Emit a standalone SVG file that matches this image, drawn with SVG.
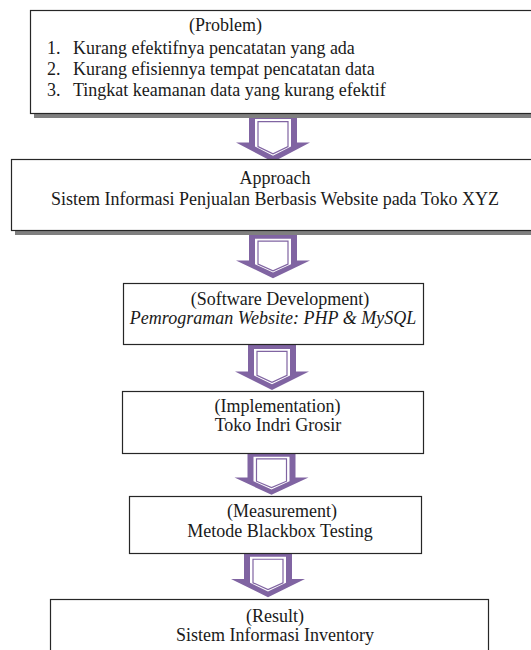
<svg xmlns="http://www.w3.org/2000/svg" width="531" height="650" viewBox="0 0 531 650">
<style>
.box{fill:#fff;stroke:#262626;stroke-width:1.2}
.shadow{fill:#7f7f7f}
text{font-family:"Liberation Serif","Times New Roman",serif;font-size:18px;fill:#1a1a1a}
.c{text-anchor:middle}
.i{font-style:italic}
.ao{fill:#8064a2}
.aw{fill:#fff}
.al{fill:none;stroke:#8064a2;stroke-width:1.2;vector-effect:non-scaling-stroke}
</style>
<defs>
<g id="arrow">
<path class="ao" d="M-24,0 H24 V27 H37 L0,46 L-37,27 H-24 Z"/>
<path class="aw" d="M-18,4 H18 V31 L0,40 L-18,31 Z"/>
<path class="al" d="M-15,6.5 H15 V31 L0,38 L-15,31 Z"/>
</g>
</defs>
<rect width="531" height="650" fill="#fff"/>
<g id="connectors">
<use href="#arrow" transform="translate(273,115) scale(1,1.02)"/>
<use href="#arrow" transform="translate(273,235) scale(1,0.94)"/>
<use href="#arrow" transform="translate(272,345) scale(1,0.98)"/>
<use href="#arrow" transform="translate(271.5,453) scale(1,0.91)"/>
<use href="#arrow" transform="translate(268,553) scale(1,0.96)"/>
</g>
<g id="problem">
<rect class="shadow" x="34" y="14" width="510" height="104"/>
<rect class="box" x="30.5" y="10.5" width="520" height="103"/>
<text x="189" y="31">(Problem)</text>
<text x="47" y="53.5">1.</text><text x="73" y="53.5">Kurang efektifnya pencatatan yang ada</text>
<text x="47" y="74.5">2.</text><text x="73" y="74.5">Kurang efisiennya tempat pencatatan data</text>
<text x="47" y="95.5">3.</text><text x="73" y="95.5">Tingkat keamanan data yang kurang efektif</text>
</g>
<g id="approach">
<rect class="shadow" x="15" y="163" width="530" height="72"/>
<rect class="box" x="11.5" y="159.5" width="530" height="71"/>
<text class="c" x="275" y="184">Approach</text>
<text class="c" x="275" y="205">Sistem Informasi Penjualan Berbasis Website pada Toko XYZ</text>
</g>
<g id="software">
<rect class="box" x="123.5" y="283.5" width="300" height="61"/>
<text class="c" x="280" y="305">(Software Development)</text>
<text class="c i" x="273" y="324">Pemrograman Website: PHP &amp; MySQL</text>
</g>
<g id="implementation">
<rect class="box" x="122.5" y="391.5" width="301" height="62"/>
<text class="c" x="277.5" y="412">(Implementation)</text>
<text class="c" x="278" y="431">Toko Indri Grosir</text>
</g>
<g id="measurement">
<rect class="box" x="129.5" y="496.5" width="292" height="57"/>
<text class="c" x="282" y="517">(Measurement)</text>
<text class="c" x="280" y="537">Metode Blackbox Testing</text>
</g>
<g id="result">
<rect class="box" x="50.5" y="599.5" width="438" height="60"/>
<text class="c" x="275" y="622">(Result)</text>
<text class="c" x="275" y="641">Sistem Informasi Inventory</text>
</g>
</svg>
